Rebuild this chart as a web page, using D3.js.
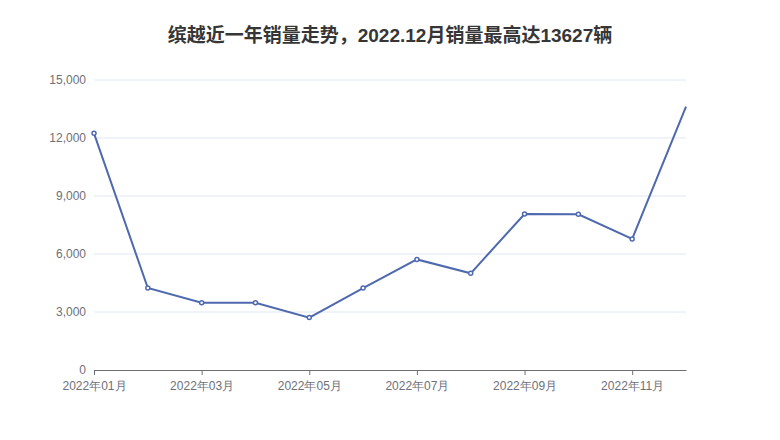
<!DOCTYPE html>
<html>
<head>
<meta charset="utf-8">
<script src="https://cdn.jsdelivr.net/npm/d3@7"></script>
<style>
  body { margin: 0; background: #fff; }
  svg { display: block; font-family: "Liberation Sans", "Noto Sans CJK SC", sans-serif; }
</style>
</head>
<body>
<div id="chart"></div>
<script>
const months = ['2022年01月', '2022年02月', '2022年03月', '2022年04月', '2022年05月', '2022年06月',
  '2022年07月', '2022年08月', '2022年09月', '2022年10月', '2022年11月', '2022年12月'];
const sales = [12240, 4240, 3480, 3480, 2710, 4240, 5720, 5000, 8070, 8050, 6780, 13627];
const yTicks = [0, 3000, 6000, 9000, 12000, 15000];
const title = '缤越近一年销量走势，2022.12月销量最高达13627辆';

const width = 780;
const height = 440;
const margin = { top: 80, right: 94, bottom: 70, left: 94 };
const lineColor = '#4f69b0';

const svg = d3.select('#chart')
  .append('svg')
  .attr('width', width)
  .attr('height', height);

const x = d3.scalePoint()
  .domain(months)
  .range([margin.left, width - margin.right]);

const y = d3.scaleLinear()
  .domain([0, 15000])
  .range([height - margin.bottom, margin.top]);

svg.append('text')
  .attr('x', width / 2)
  .attr('y', 42)
  .attr('text-anchor', 'middle')
  .attr('font-size', 19)
  .attr('font-weight', 'bold')
  .attr('fill', '#363636')
  .text(title);

// grid
svg.append('g')
  .selectAll('line')
  .data(yTicks.slice(1))
  .join('line')
    .attr('x1', margin.left)
    .attr('x2', width - margin.right)
    .attr('y1', d => y(d))
    .attr('y2', d => y(d))
    .attr('stroke', '#E0E6F1');

// y axis labels
svg.append('g')
  .attr('transform', `translate(${margin.left},0)`)
  .call(d3.axisLeft(y).tickValues(yTicks).tickFormat(d3.format(',')).tickSize(0).tickPadding(8))
  .call(g => g.select('.domain').remove())
  .call(g => g.selectAll('text').attr('fill', '#6E7079').attr('font-size', 12).attr('dy', '0.3em'));

// x axis
svg.append('g')
  .attr('transform', `translate(0,${height - margin.bottom})`)
  .call(d3.axisBottom(x).tickValues(months.filter((d, i) => i % 2 === 0)).tickSize(5).tickSizeOuter(0).tickPadding(6))
  .call(g => g.select('.domain').attr('stroke', '#6E7079'))
  .call(g => g.selectAll('.tick line').attr('stroke', '#6E7079'))
  .call(g => g.selectAll('text').attr('fill', '#6E7079').attr('font-size', 12));

const line = d3.line()
  .x((d, i) => x(months[i]))
  .y(d => y(d));

svg.append('path')
  .datum(sales)
  .attr('fill', 'none')
  .attr('stroke', lineColor)
  .attr('stroke-width', 2)
  .attr('d', line);

svg.append('g')
  .selectAll('circle')
  .data(sales.slice(0, -1))
  .join('circle')
    .attr('cx', (d, i) => x(months[i]))
    .attr('cy', d => y(d))
    .attr('r', 2)
    .attr('fill', '#fff')
    .attr('stroke', lineColor)
    .attr('stroke-width', 1.5);
</script>
</body>
</html>
